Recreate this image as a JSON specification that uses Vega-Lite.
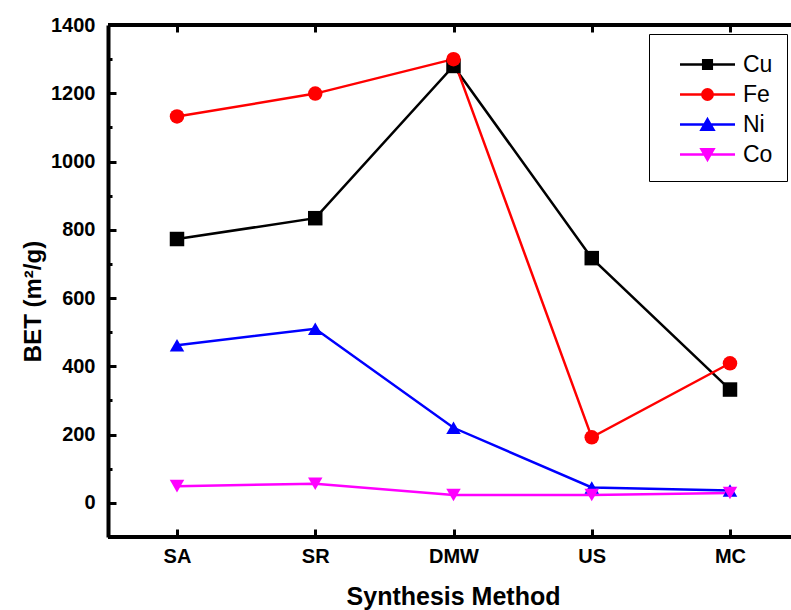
{
  "$schema": "https://vega.github.io/schema/vega-lite/v6.json",
  "width": 683,
  "height": 512,
  "autosize": {"type": "none"},
  "padding": {"left": 108, "top": 25, "right": 0, "bottom": 73},
  "background": "white",
  "config": {"view": {"stroke": null}, "axis": {"grid": false}},
  "data": {
    "values": [
      {"method": "SA", "metal": "Cu", "bet": 773},
      {"method": "SR", "metal": "Cu", "bet": 834},
      {"method": "DMW", "metal": "Cu", "bet": 1280},
      {"method": "US", "metal": "Cu", "bet": 717},
      {"method": "MC", "metal": "Cu", "bet": 332},
      {"method": "SA", "metal": "Fe", "bet": 1132},
      {"method": "SR", "metal": "Fe", "bet": 1199},
      {"method": "DMW", "metal": "Fe", "bet": 1300},
      {"method": "US", "metal": "Fe", "bet": 192},
      {"method": "MC", "metal": "Fe", "bet": 409},
      {"method": "SA", "metal": "Ni", "bet": 462},
      {"method": "SR", "metal": "Ni", "bet": 510},
      {"method": "DMW", "metal": "Ni", "bet": 220},
      {"method": "US", "metal": "Ni", "bet": 45},
      {"method": "MC", "metal": "Ni", "bet": 36},
      {"method": "SA", "metal": "Co", "bet": 49},
      {"method": "SR", "metal": "Co", "bet": 56},
      {"method": "DMW", "metal": "Co", "bet": 23},
      {"method": "US", "metal": "Co", "bet": 23},
      {"method": "MC", "metal": "Co", "bet": 29}
    ]
  },
  "resolve": {"axis": {"x": "independent", "y": "independent"}},
  "layer": [
    {
      "mark": {"type": "rule", "strokeWidth": 4, "color": "black"},
      "encoding": {
        "y": {"datum": 1400, "type": "quantitative", "scale": {"domain": [-100, 1400], "nice": false, "zero": false}, "axis": null}
      }
    },
    {
      "mark": {"type": "rule", "strokeWidth": 4, "color": "black"},
      "encoding": {
        "y": {"datum": -100, "type": "quantitative", "scale": {"domain": [-100, 1400], "nice": false, "zero": false}, "axis": null}
      }
    },
    {
      "mark": {"type": "line", "strokeWidth": 2.5},
      "encoding": {
        "x": {
          "field": "method",
          "type": "nominal",
          "sort": ["SA", "SR", "DMW", "US", "MC"],
          "scale": {"type": "point", "range": [69, 622], "padding": 0},
          "axis": {
            "orient": "top",
            "labels": false,
            "title": null,
            "domain": false,
            "tickSize": -7,
            "tickWidth": 3,
            "tickColor": "black"
          }
        },
        "y": {
          "field": "bet",
          "type": "quantitative",
          "scale": {"domain": [-100, 1400], "nice": false, "zero": false},
          "axis": {
            "orient": "left",
            "values": [0, 200, 400, 600, 800, 1000, 1200, 1400],
            "format": "d",
            "tickSize": -8,
            "tickWidth": 3,
            "tickColor": "black",
            "domainWidth": 4,
            "domainColor": "black",
            "labelFont": "Liberation Sans",
            "labelFontWeight": "bold",
            "labelFontSize": 20,
            "labelColor": "black",
            "labelPadding": 21,
            "title": "BET (m²/g)",
            "titleFont": "Liberation Sans",
            "titleFontWeight": "bold",
            "titleFontSize": 24,
            "titleColor": "black",
            "titleX": -75,
            "titleY": 276,
            "titleAngle": -90,
            "titleAlign": "center",
            "titleBaseline": "middle"
          }
        },
        "color": {
          "field": "metal",
          "type": "nominal",
          "scale": {"domain": ["Cu", "Fe", "Ni", "Co"], "range": ["#000000", "#ff0000", "#0000ff", "#ff00ff"]},
          "legend": {
            "orient": "none",
            "legendX": 541,
            "legendY": 9,
            "title": null,
            "strokeColor": "black",
            "fillColor": "white",
            "padding": 14,
            "rowPadding": 1,
            "labelFont": "Liberation Sans",
            "labelFontSize": 23,
            "labelColor": "black",
            "labelOffset": 47,
            "symbolSize": 900,
            "symbolStrokeWidth": 2.5,
            "encode": {
              "symbols": {
                "update": {
                  "shape": {"signal": "datum.value === 'Cu' ? 'M0.033,0L3.7,0M1.58,-0.287L2.154,-0.287L2.154,0.287L1.58,0.287Z' : datum.value === 'Fe' ? 'M0.033,0L3.7,0M1.52,0A0.347,0.347 0 1,0 2.214,0A0.347,0.347 0 1,0 1.52,0Z' : datum.value === 'Ni' ? 'M0.033,0L3.7,0M1.867,-0.347L2.267,0.347L1.467,0.347Z' : 'M0.033,0L3.7,0M1.467,-0.347L2.267,-0.347L1.867,0.347Z'"},
                  "fill": {"signal": "scale('color', datum.value)"},
                  "stroke": {"signal": "scale('color', datum.value)"}
                }
              }
            }
          }
        },
        "order": {"value": null}
      }
    },
    {
      "mark": {"type": "point", "filled": true, "opacity": 1, "strokeWidth": 0},
      "encoding": {
        "x": {
          "field": "method",
          "type": "nominal",
          "sort": ["SA", "SR", "DMW", "US", "MC"],
          "scale": {"type": "point", "range": [69, 622], "padding": 0},
          "axis": {
            "orient": "bottom",
            "labelAngle": 0,
            "domain": false,
            "tickSize": -8,
            "tickWidth": 3,
            "tickColor": "black",
            "labelFont": "Liberation Sans",
            "labelFontWeight": "bold",
            "labelFontSize": 20,
            "labelColor": "black",
            "labelPadding": 17,
            "title": "Synthesis Method",
            "titleFont": "Liberation Sans",
            "titleFontWeight": "bold",
            "titleFontSize": 25,
            "titleColor": "black",
            "titlePadding": 18,
            "titleX": 345
          }
        },
        "y": {
          "field": "bet",
          "type": "quantitative",
          "scale": {"domain": [-100, 1400], "nice": false, "zero": false},
          "axis": {
            "orient": "left",
            "values": [100, 300, 500, 700, 900, 1100, 1300],
            "labels": false,
            "domain": false,
            "title": null,
            "tickSize": -4,
            "tickWidth": 3,
            "tickColor": "black"
          }
        },
        "color": {"field": "metal", "type": "nominal"},
        "shape": {
          "field": "metal",
          "type": "nominal",
          "scale": {"domain": ["Co", "Ni", "Fe", "Cu"], "range": ["triangle-down", "triangle-up", "circle", "square"]},
          "legend": null
        },
        "size": {
          "field": "metal",
          "type": "nominal",
          "scale": {"domain": ["Ni", "Co", "Cu", "Fe"], "range": [210, 210, 130, 150]},
          "legend": null
        }
      }
    }
  ]
}
